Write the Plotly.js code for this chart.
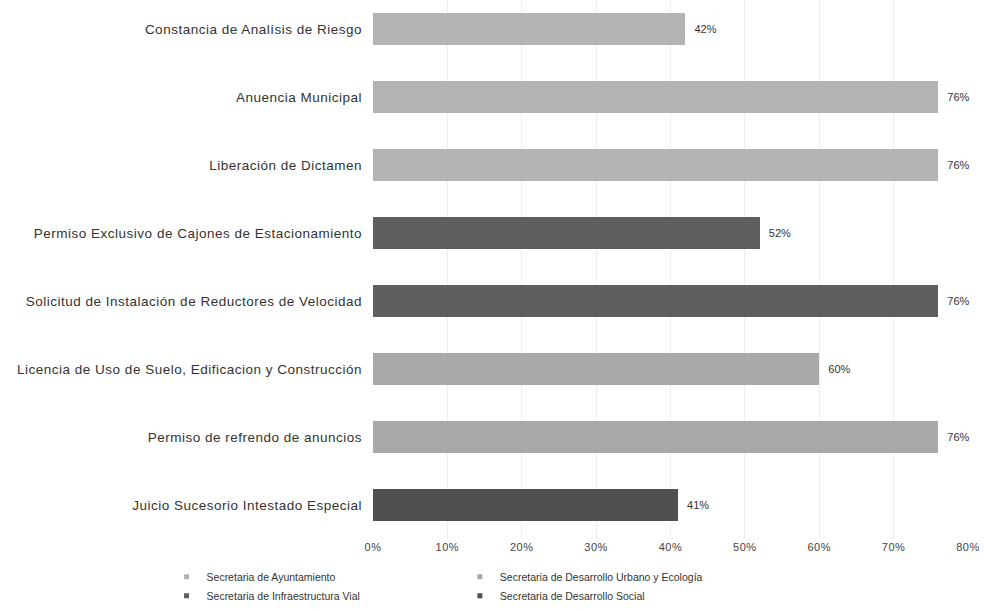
<!DOCTYPE html>
<html>
<head>
<meta charset="utf-8">
<script src="https://cdn.plot.ly/plotly-3.0.1.min.js"></script>
<style>
html,body{margin:0;padding:0;background:#fff;}
#chart{width:984px;height:611px;}
#chart .ytick text{letter-spacing:0.5px;}
#chart .xtick text{letter-spacing:0.5px;}
</style>
</head>
<body>
<div id="chart"></div>
<script>
// Categories, bottom to top
const categories = [
  "Juicio Sucesorio Intestado Especial",
  "Permiso de refrendo de anuncios",
  "Licencia de Uso de Suelo, Edificacion y Construcción",
  "Solicitud de Instalación de Reductores de Velocidad",
  "Permiso Exclusivo de Cajones de Estacionamiento",
  "Liberación de Dictamen",
  "Anuencia Municipal",
  "Constancia de Analísis de Riesgo"
];
const values = [41, 76, 60, 76, 52, 76, 76, 42];
// Department of each procedure
const department = [
  "Secretaria de Desarrollo Social",
  "Secretaria de Desarrollo Urbano y Ecología",
  "Secretaria de Desarrollo Urbano y Ecología",
  "Secretaria de Infraestructura Vial",
  "Secretaria de Infraestructura Vial",
  "Secretaria de Ayuntamiento",
  "Secretaria de Ayuntamiento",
  "Secretaria de Ayuntamiento"
];
const seriesNames = [
  "Secretaria de Ayuntamiento",
  "Secretaria de Desarrollo Urbano y Ecología",
  "Secretaria de Infraestructura Vial",
  "Secretaria de Desarrollo Social"
];
const seriesColors = ["#b3b3b3", "#a9a9a9", "#5f5f5f", "#4f4f4f"];
const legendFor = ["legend", "legend2", "legend", "legend2"];
const tickValues = [0, 10, 20, 30, 40, 50, 60, 70, 80];
const tickLabels = ["0%", "10%", "20%", "30%", "40%", "50%", "60%", "70%", "80%"];

const traces = [];
seriesNames.forEach((name, i) => {
  const xs = values.map((v, k) => department[k] === name ? v : null);
  const txt = values.map((v, k) => department[k] === name ? v + "%" : "");
  traces.push({
    type: "bar", orientation: "h", name: name,
    y: categories, x: xs, text: txt,
    marker: {color: seriesColors[i], line: {width: 0}},
    texttemplate: "\u00a0\u00a0%{text}", textposition: "outside", cliponaxis: false,
    textfont: {family: "Liberation Sans, Arial, sans-serif", size: 11, color: "#333"},
    showlegend: false, legendgroup: name, hoverinfo: "skip"
  });
});
seriesNames.forEach((name, i) => {
  traces.push({
    type: "scatter", mode: "markers", name: name, x: [null], y: [null],
    marker: {symbol: "square", size: 5, color: seriesColors[i]},
    legend: legendFor[i], legendgroup: name, showlegend: true, hoverinfo: "skip"
  });
});

const legendCommon = {
  orientation: "v", yanchor: "top", xanchor: "left", y: -0.043,
  font: {family: "Liberation Sans, Arial, sans-serif", size: 10.5, color: "#333"},
  bgcolor: "rgba(0,0,0,0)", itemwidth: 30, tracegroupgap: 0
};

const layout = {
  width: 984, height: 611,
  margin: {l: 373, r: 16, t: 0, b: 72},
  paper_bgcolor: "#fff", plot_bgcolor: "#fff",
  barmode: "stack", bargap: 0.54,
  font: {family: "Liberation Sans, Arial, sans-serif", size: 11, color: "#333"},
  xaxis: {
    range: [0, 80], tickmode: "array", tickvals: tickValues, ticktext: tickLabels,
    showgrid: true, gridcolor: "#ededed", gridwidth: 1,
    zeroline: false, showline: false, ticks: "",
    tickfont: {size: 11, color: "#444"}, fixedrange: true
  },
  yaxis: {
    type: "category", range: [-0.5, 7.426],
    showgrid: false, zeroline: false, showline: false, ticks: "",
    ticklabelstandoff: 10,
    tickfont: {size: 13.5, color: "#333"}, fixedrange: true
  },
  legend: Object.assign({}, legendCommon, {x: -0.347}),
  legend2: Object.assign({}, legendCommon, {x: 0.146}),
  showlegend: true
};

Plotly.newPlot("chart", traces, layout, {displayModeBar: false, staticPlot: true});
</script>
</body>
</html>
